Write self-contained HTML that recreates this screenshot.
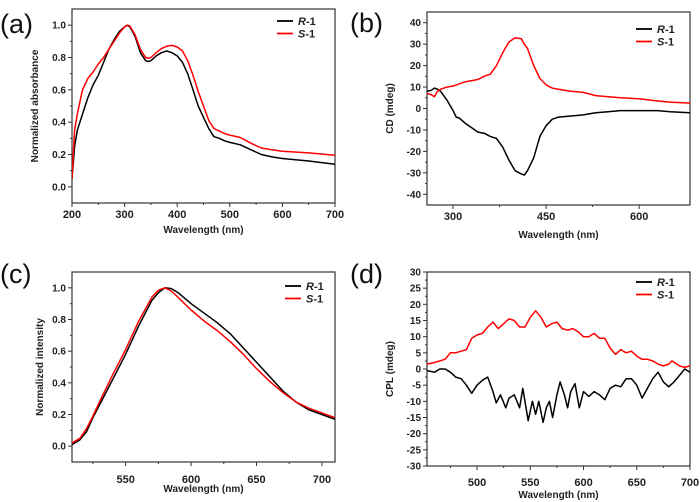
<!DOCTYPE html>
<html><head><meta charset="utf-8"><style>
body{margin:0;background:#fff;}
svg{display:block;font-family:"Liberation Sans",Arial,sans-serif;}
</style></head><body>
<svg id="c" width="700" height="502"></svg>
<script>
const aX=[200,205,210,220,230,240,250,260,270,280,290,300,305,310,320,330,340,345,350,360,370,380,390,400,410,420,430,440,450,460,470,480,490,500,520,540,560,580,600,650,700];
const aR=[0.05,0.25,0.35,0.45,0.55,0.63,0.69,0.77,0.85,0.91,0.96,0.99,1.0,0.99,0.93,0.83,0.78,0.775,0.78,0.81,0.83,0.84,0.83,0.81,0.77,0.70,0.60,0.50,0.43,0.36,0.31,0.30,0.285,0.275,0.26,0.23,0.20,0.185,0.175,0.16,0.14];
const aS=[0.05,0.35,0.45,0.60,0.67,0.71,0.76,0.80,0.85,0.90,0.95,0.99,1.0,0.995,0.94,0.85,0.80,0.795,0.80,0.83,0.855,0.87,0.875,0.865,0.84,0.78,0.69,0.59,0.50,0.41,0.36,0.345,0.33,0.32,0.305,0.27,0.24,0.23,0.22,0.21,0.195];
const bX=[258,265,270,275,280,290,300,305,310,320,330,340,350,360,370,380,390,400,410,415,420,430,440,450,460,470,490,510,530,550,570,600,630,650,682];
const bR=[8,8.5,9.5,9,8,4,-1,-4,-4.5,-7,-9,-11,-11.5,-13,-14,-18,-24,-29,-30.5,-31,-29,-23,-13,-8,-5,-4,-3.5,-3,-2,-1.5,-1,-1,-1,-1.5,-2];
const bS=[7,6.5,5.5,8,9,10,10.5,11,11.5,12.5,13,13.5,15,16,20,26,31,33,32.5,30,28,20,14,11,9.5,9,8,7.5,6,5.5,5,4.5,3.5,3,2.5];
const cX=[509,515,520,525,530,540,550,560,570,575,580,585,590,600,610,620,630,640,650,660,670,680,690,700,710];
const cR=[0.01,0.04,0.09,0.18,0.26,0.42,0.58,0.76,0.92,0.97,1.0,0.995,0.97,0.90,0.84,0.78,0.71,0.62,0.53,0.44,0.35,0.28,0.23,0.20,0.17];
const cS=[0.02,0.05,0.11,0.19,0.28,0.45,0.61,0.79,0.94,0.985,1.0,0.98,0.94,0.86,0.79,0.73,0.66,0.58,0.49,0.41,0.34,0.28,0.24,0.21,0.18];
const dSX=[453,460,470,475,480,485,490,495,500,505,510,515,520,525,530,535,540,545,550,555,560,565,570,575,580,585,590,595,600,605,610,615,620,625,630,635,640,645,650,655,660,665,670,675,680,683,690,695,700];
const dS=[1.5,2,3,5,5,5.5,6,9.5,10.5,11,13,14.5,12.5,14,15.5,15,13,13,16,18,16,13,14,14.5,12.5,12,12.5,11.5,10,10,11,9.5,9.5,6.5,4.5,6,5,5.5,4,3,3,2.5,1.5,1,1.5,2.5,1,0.5,1];
const dRX=[453,460,465,470,475,480,485,490,495,500,505,510,515,518,522,527,530,535,540,543,548,552,555,558,562,565,568,571,575,578,582,585,588,592,596,600,605,610,615,620,625,630,635,640,645,650,655,660,665,670,675,680,685,690,695,700];
const dR=[-0.5,-1,0,0,-1,-2.5,-3,-5,-7.5,-5,-3.5,-2.5,-7,-10.5,-8,-12,-9,-8,-12,-6,-16,-10,-14,-10,-16.5,-12,-10,-15,-8,-4,-8,-12,-7,-4.5,-12,-7,-8.5,-7,-8,-9.5,-6,-5,-5.5,-3,-3,-5,-9,-6,-3,-1,-4,-5.5,-4,-2,0,-1];

const svg=document.getElementById('c');
const NS='http://www.w3.org/2000/svg';
function mk(tag,attrs,parent,name){const e=document.createElementNS(NS,tag);for(const k in attrs)e.setAttribute(k,attrs[k]);


(parent||svg).appendChild(e);return e;}
function txt(x,y,s,size,parent,name,extra){const t=mk('text',Object.assign({x:x,y:y,'font-size':size,'font-weight':'bold','text-anchor':'middle',fill:'#222'},extra||{}),parent,name);t.textContent=s;return t;}

function panel(p){
  const g=mk('g',{},svg,'panel-'+p.id);
  const sx=v=>p.L+(v-p.xr[0])/(p.xr[1]-p.xr[0])*(p.R-p.L);
  const sy=v=>p.B-(v-p.yr[0])/(p.yr[1]-p.yr[0])*(p.B-p.T);
  // ticks
  p.xt.forEach(v=>{mk('line',{x1:sx(v),x2:sx(v),y1:p.B,y2:p.B+4,stroke:'#333','stroke-width':1},g,'x-tick');
    txt(sx(v),p.xly,p.xf(v),11,g,'x-tick-label');});
  p.xm.forEach(v=>mk('line',{x1:sx(v),x2:sx(v),y1:p.B,y2:p.B+2,stroke:'#333','stroke-width':1},g,'x-minor-tick'));
  p.yt.forEach(v=>{mk('line',{x1:p.L-4,x2:p.L,y1:sy(v),y2:sy(v),stroke:'#333','stroke-width':1},g,'y-tick');
    txt(p.L-6,sy(v)+3.5,p.yf(v),10,g,'y-tick-label',{'text-anchor':'end'});});
  p.ym.forEach(v=>mk('line',{x1:p.L-2,x2:p.L,y1:sy(v),y2:sy(v),stroke:'#333','stroke-width':1},g,'y-minor-tick'));
  mk('rect',{x:p.L,y:p.T,width:p.R-p.L,height:p.B-p.T,fill:'none',stroke:'#333','stroke-width':1.2},g,'plot-frame');
  const clip=mk('clipPath',{id:'cl'+p.id},g,'clip');
  mk('rect',{x:p.L,y:p.T,width:p.R-p.L,height:p.B-p.T},clip,'clip-rect');
  p.series.forEach(s=>{
    const d=s.x.map((v,i)=>(i?'L':'M')+sx(v).toFixed(1)+','+sy(s.y[i]).toFixed(1)).join('');
    mk('path',{d:d,fill:'none',stroke:s.c,'stroke-width':1.5,'clip-path':'url(#cl'+p.id+')','stroke-linejoin':'round'},g,'series-'+s.n);
  });
  // legend
  p.series.forEach((s,i)=>{
    const y=p.lgY+i*12.5;
    mk('line',{x1:p.lgX,x2:p.lgX+16,y1:y,y2:y,stroke:s.c,'stroke-width':1.8},g,'legend-line-'+s.n);
    const t=mk('text',{x:p.lgX+21,y:y+4,'font-size':11,'font-weight':'bold',fill:'#222'},g,'legend-entry-'+s.n);
    t.innerHTML='<tspan font-style="italic">'+s.n[0]+'</tspan>-1';
  });
  txt((p.L+p.R)/2,p.xty,'Wavelength (nm)',10,g,'x-axis-title');
  txt(p.ytx,(p.T+p.B)/2,p.yt_,10,g,'y-axis-title',{transform:'rotate(-90 '+p.ytx+' '+(p.T+p.B)/2+')'});
  const pl=mk('text',{x:p.plx,y:p.ply,'font-size':27,fill:'#111'},g,'panel-label');pl.textContent='('+p.id+')';
}
const f1=v=>v.toFixed(1), f0=v=>String(v);
const rng=(a,b,s)=>{const r=[];for(let v=a;v<=b+1e-9;v+=s)r.push(+v.toFixed(3));return r;};
panel({id:'a',L:72,R:335,T:9,B:203,xr:[200,700],yr:[-0.1,1.1],xt:rng(200,700,100),xm:rng(250,650,100),yt:rng(0,1,0.2),ym:rng(0.1,0.9,0.2),xf:f0,yf:f1,xly:218,xty:233,ytx:38,yt_:'Normalized absorbance',lgX:277,lgY:21,plx:0,ply:33,
 series:[{n:'R-1',c:'#000',x:aX,y:aR},{n:'S-1',c:'#f00',x:aX,y:aS}]});
panel({id:'b',L:427,R:690,T:12,B:205,xr:[258,682],yr:[-45,45],xt:[300,450,600],xm:[375,525],yt:rng(-40,40,10),ym:rng(-35,35,10),xf:f0,yf:f0,xly:220,xty:238,ytx:393,yt_:'CD (mdeg)',lgX:636,lgY:29,plx:350,ply:32,
 series:[{n:'R-1',c:'#000',x:bX,y:bR},{n:'S-1',c:'#f00',x:bX,y:bS}]});
panel({id:'c',L:72,R:335,T:272,B:462,xr:[509,710],yr:[-0.1,1.1],xt:rng(550,700,50),xm:rng(525,675,50),yt:rng(0,1,0.2),ym:rng(0.1,0.9,0.2),xf:f0,yf:f1,xly:483,xty:492,ytx:43,yt_:'Normalized intensity',lgX:285,lgY:286,plx:0,ply:283,
 series:[{n:'R-1',c:'#000',x:cX,y:cR},{n:'S-1',c:'#f00',x:cX,y:cS}]});
panel({id:'d',L:427,R:690,T:272,B:466,xr:[453,700],yr:[-30,30],xt:rng(500,700,50),xm:rng(475,675,50),yt:rng(-30,30,5),ym:rng(-27.5,27.5,5),xf:f0,yf:f0,xly:486,xty:498,ytx:393,yt_:'CPL (mdeg)',lgX:636,lgY:282,plx:350,ply:283,
 series:[{n:'R-1',c:'#000',x:dRX,y:dR},{n:'S-1',c:'#f00',x:dSX,y:dS}]});
</script>
</body></html>
